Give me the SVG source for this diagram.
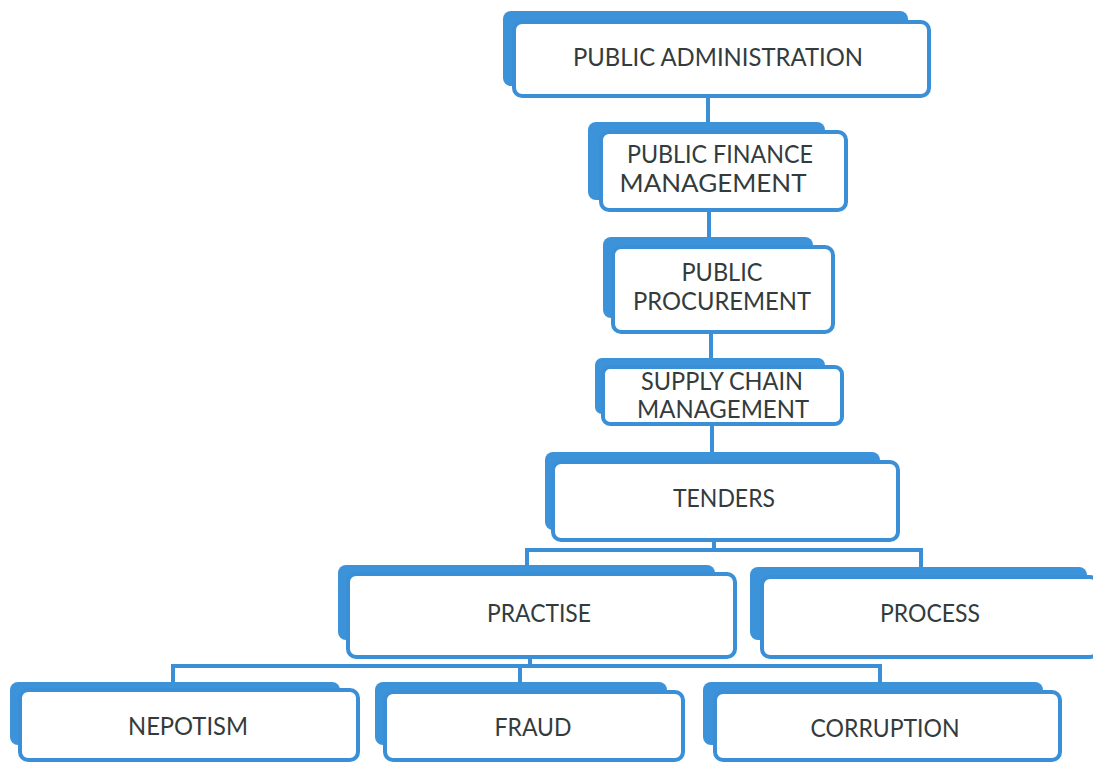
<svg xmlns="http://www.w3.org/2000/svg" width="1093" height="762" viewBox="0 0 1093 762">
  <style>
    .back { fill: #3d93d9; }
    .front { fill: #ffffff; stroke: #3a8fd6; stroke-width: 4; }
    .conn { fill: none; stroke: #3a8fd6; stroke-width: 4; stroke-linecap: butt; stroke-linejoin: miter; }
    .label { font-family: Lato, "Open Sans", "Liberation Sans", sans-serif; font-size: 25px; fill: #333b3d; text-anchor: middle; }
  </style>
  <rect width="1093" height="762" fill="#ffffff"/>

  <!-- connectors -->
  <g id="connectors">
    <path class="conn" d="M708,96 V124"/>
    <path class="conn" d="M709,210 V239"/>
    <path class="conn" d="M711,332 V360"/>
    <path class="conn" d="M712,424 V454"/>
    <path class="conn" d="M714,540 V550 M527,567 V550 H921 V569"/>
    <path class="conn" d="M530,657 V666 M173,684 V666 H880 V684 M520,666 V684"/>
  </g>

  <!-- level 1 -->
  <g id="public-administration">
    <rect class="back" x="503" y="11" width="405" height="75" rx="8"/>
    <rect class="front" x="514" y="22" width="415" height="74" rx="8"/>
    <text class="label" x="718" y="66" textLength="290" lengthAdjust="spacingAndGlyphs">PUBLIC ADMINISTRATION</text>
  </g>

  <g id="public-finance-management">
    <rect class="back" x="588" y="122" width="237" height="78" rx="8"/>
    <rect class="front" x="601" y="132" width="245" height="78" rx="8"/>
    <text class="label" x="720" y="163" textLength="186" lengthAdjust="spacingAndGlyphs">PUBLIC FINANCE</text>
    <text class="label" x="713" y="192" textLength="187" lengthAdjust="spacingAndGlyphs">MANAGEMENT</text>
  </g>

  <g id="public-procurement">
    <rect class="back" x="603" y="237" width="210" height="81" rx="8"/>
    <rect class="front" x="613" y="247" width="220" height="85" rx="8"/>
    <text class="label" x="722" y="281" textLength="81" lengthAdjust="spacingAndGlyphs">PUBLIC</text>
    <text class="label" x="722" y="310" textLength="178" lengthAdjust="spacingAndGlyphs">PROCUREMENT</text>
  </g>

  <g id="supply-chain-management">
    <rect class="back" x="595" y="358" width="230" height="56" rx="7"/>
    <rect class="front" x="603" y="367" width="239" height="57" rx="7"/>
    <text class="label" x="722" y="390" textLength="162" lengthAdjust="spacingAndGlyphs">SUPPLY CHAIN</text>
    <text class="label" x="723" y="418" textLength="172" lengthAdjust="spacingAndGlyphs">MANAGEMENT</text>
  </g>

  <g id="tenders">
    <rect class="back" x="545" y="452" width="335" height="78" rx="8"/>
    <rect class="front" x="553" y="462" width="345" height="78" rx="8"/>
    <text class="label" x="724" y="507" textLength="102" lengthAdjust="spacingAndGlyphs">TENDERS</text>
  </g>

  <!-- level 2 -->
  <g id="practise">
    <rect class="back" x="338" y="565" width="377" height="75" rx="8"/>
    <rect class="front" x="348" y="574" width="387" height="83" rx="8"/>
    <text class="label" x="539" y="622" textLength="104" lengthAdjust="spacingAndGlyphs">PRACTISE</text>
  </g>

  <g id="process">
    <rect class="back" x="750" y="567" width="337" height="73" rx="8"/>
    <rect class="front" x="762" y="577" width="336" height="80" rx="8"/>
    <text class="label" x="930" y="622" textLength="100" lengthAdjust="spacingAndGlyphs">PROCESS</text>
  </g>

  <!-- level 3 -->
  <g id="nepotism">
    <rect class="back" x="10" y="682" width="330" height="63" rx="8"/>
    <rect class="front" x="20" y="690" width="338" height="70" rx="8"/>
    <text class="label" x="188" y="735" textLength="120" lengthAdjust="spacingAndGlyphs">NEPOTISM</text>
  </g>

  <g id="fraud">
    <rect class="back" x="375" y="682" width="292" height="63" rx="8"/>
    <rect class="front" x="385" y="692" width="298" height="68" rx="8"/>
    <text class="label" x="533" y="736" textLength="77" lengthAdjust="spacingAndGlyphs">FRAUD</text>
  </g>

  <g id="corruption">
    <rect class="back" x="703" y="682" width="340" height="63" rx="8"/>
    <rect class="front" x="715" y="692" width="345" height="68" rx="8"/>
    <text class="label" x="885" y="737" textLength="149" lengthAdjust="spacingAndGlyphs">CORRUPTION</text>
  </g>
</svg>
